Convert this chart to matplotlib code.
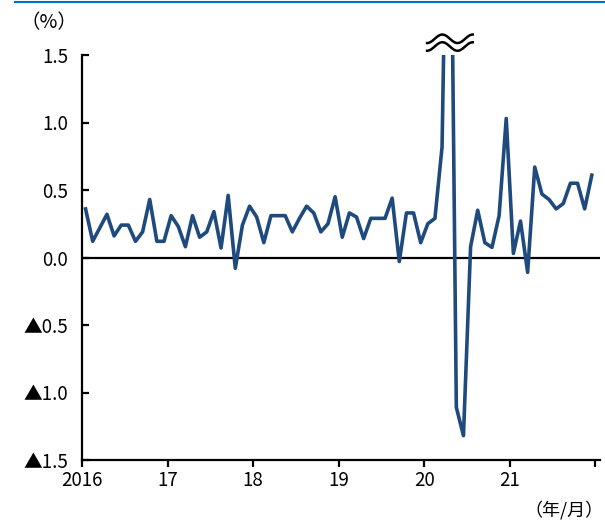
import matplotlib.pyplot as plt
import numpy as np
from matplotlib.lines import Line2D
from matplotlib.transforms import blended_transform_factory

plt.rcParams['font.family'] = ['Noto Sans CJK JP', 'DejaVu Sans']

# monthly change (%), 2016/01 - 2021/12
values = [
    0.36, 0.12, 0.22, 0.32, 0.16, 0.24, 0.24, 0.12, 0.19, 0.43, 0.12, 0.12,   # 2016
    0.31, 0.23, 0.08, 0.31, 0.15, 0.19, 0.34, 0.07, 0.46, -0.08, 0.24, 0.38,  # 2017
    0.30, 0.11, 0.31, 0.31, 0.31, 0.19, 0.29, 0.38, 0.33, 0.19, 0.25, 0.45,   # 2018
    0.15, 0.33, 0.30, 0.14, 0.29, 0.29, 0.29, 0.44, -0.03, 0.33, 0.33, 0.11,  # 2019
    0.25, 0.29, 0.82, 4.00, -1.11, -1.32, 0.08, 0.35, 0.11, 0.075, 0.31, 1.03,  # 2020
    0.03, 0.27, -0.11, 0.67, 0.47, 0.43, 0.36, 0.40, 0.55, 0.55, 0.36, 0.61,  # 2021
]
year_labels = ['2016', '17', '18', '19', '20', '21', '']
yticks = [1.5, 1.0, 0.5, 0.0, -0.5, -1.0, -1.5]
ytick_labels = ['1.5', '1.0', '0.5', '0.0', '▲0.5', '▲1.0', '▲1.5']

fig = plt.figure(figsize=(6.05, 5.2), dpi=100)
ax = fig.add_axes([82/605, 1-460/520, 518/605, 405/520])

x = np.arange(len(values))
ax.axhline(0, color='black', lw=1.6, zorder=1)
ax.plot(x, values, color='#1f4a7e', lw=2.6, zorder=2)

ax.set_xlim(-0.5, 72.15)
ax.set_ylim(-1.5, 1.5)
ax.set_xticks(np.arange(-0.5, 72, 12), year_labels)
ax.set_yticks(yticks, ytick_labels)

for s in ['top', 'right']:
    ax.spines[s].set_visible(False)
for s in ['left', 'bottom']:
    ax.spines[s].set_linewidth(1.6)
ax.tick_params(axis='x', direction='out', length=5, width=1.6, pad=2, labelsize=13.5)
ax.tick_params(axis='y', direction='in', length=5, width=1.6, pad=10, labelsize=13.5)

# break mark above the spike
tr = blended_transform_factory(ax.transData, ax.transAxes)
t = np.linspace(0, 1, 80)
bx = 47.9 + 6.4 * t
for yc in (1.040, 1.021):
    ax.plot(bx, yc - 0.0105 * np.cos(2 * np.pi * t / 0.667), transform=tr,
            clip_on=False, color='black', lw=1.8)

fig.add_artist(Line2D([15/605, 1], [1 - 1.5/520] * 2, color='#0070c0', lw=1.5))
fig.text(20/605, 1 - 23/520, '（%）', fontsize=14, va='center')
fig.text(604/605, 1 - 510/520, '（年/月）', fontsize=13, va='center', ha='right')

fig.savefig('out.png', dpi=100)
